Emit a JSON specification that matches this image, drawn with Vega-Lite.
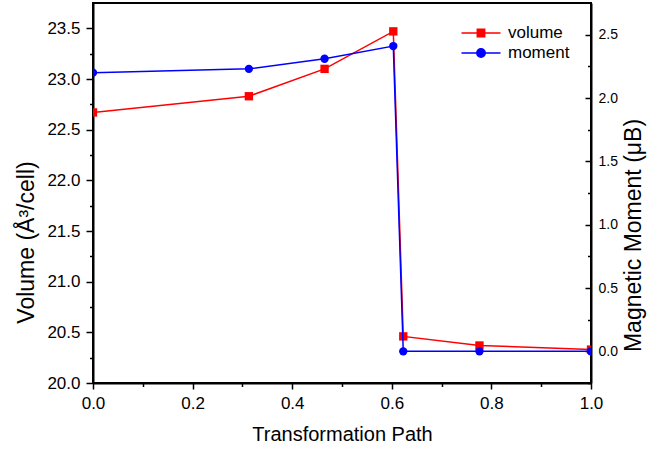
{
  "$schema": "https://vega.github.io/schema/vega-lite/v6.json",
  "width": 498,
  "height": 380,
  "autosize": {"type": "none"},
  "padding": {"left": 93, "top": 3, "right": 79, "bottom": 67},
  "background": "white",
  "config": {
    "view": {"stroke": "black", "strokeWidth": 2},
    "font": "Liberation Sans",
    "axis": {
      "grid": false,
      "domainColor": "black",
      "domainWidth": 2,
      "tickColor": "black",
      "tickWidth": 1.5,
      "labelColor": "black",
      "titleColor": "black",
      "labelFont": "Liberation Sans",
      "titleFont": "Liberation Sans",
      "titleFontWeight": "normal",
      "titleFontSize": 20,
      "labelFontSize": 17
    },
    "legend": {
      "labelFont": "Liberation Sans",
      "labelFontSize": 17,
      "labelColor": "black"
    }
  },
  "data": {
    "values": [
      {"path": 0.0, "series": "volume", "value": 22.67},
      {"path": 0.313, "series": "volume", "value": 22.83},
      {"path": 0.465, "series": "volume", "value": 23.10},
      {"path": 0.603, "series": "volume", "value": 23.47},
      {"path": 0.623, "series": "volume", "value": 20.46},
      {"path": 0.776, "series": "volume", "value": 20.37},
      {"path": 1.0, "series": "volume", "value": 20.33},
      {"path": 0.0, "series": "moment", "value": 2.20},
      {"path": 0.313, "series": "moment", "value": 2.23},
      {"path": 0.465, "series": "moment", "value": 2.31},
      {"path": 0.603, "series": "moment", "value": 2.41},
      {"path": 0.623, "series": "moment", "value": 0.0},
      {"path": 0.776, "series": "moment", "value": 0.0},
      {"path": 1.0, "series": "moment", "value": 0.0}
    ]
  },
  "encoding": {
    "x": {
      "field": "path",
      "type": "quantitative",
      "scale": {"domain": [0, 1], "nice": false, "zero": false},
      "axis": {
        "title": "Transformation Path",
        "values": [0, 0.1, 0.2, 0.3, 0.4, 0.5, 0.6, 0.7, 0.8, 0.9, 1.0],
        "labelExpr": "abs(round(datum.value*5) - datum.value*5) > 0.01 ? '' : format(datum.value, '.1f')",
        "tickSize": {"condition": {"test": "abs(round(datum.value*5) - datum.value*5) > 0.01", "value": 3.5}, "value": 6},
        "labelPadding": 6,
        "labelFlush": false,
        "labelOverlap": false,
        "titleY": 57,
        "titleBaseline": "alphabetic"
      }
    }
  },
  "layer": [
    {
      "transform": [{"filter": "datum.series === 'volume'"}],
      "encoding": {
        "y": {
          "field": "value",
          "type": "quantitative",
          "scale": {"domain": [20, 23.75], "nice": false, "zero": false},
          "axis": {
            "orient": "left",
            "title": "Volume (Å³/cell)",
            "titleFontSize": 23,
            "values": [20, 20.25, 20.5, 20.75, 21, 21.25, 21.5, 21.75, 22, 22.25, 22.5, 22.75, 23, 23.25, 23.5],
            "labelExpr": "abs(round(datum.value*2) - datum.value*2) > 0.01 ? '' : format(datum.value, '.1f')",
            "tickSize": {"condition": {"test": "abs(round(datum.value*2) - datum.value*2) > 0.01", "value": 3.5}, "value": 7},
            "labelPadding": 6,
            "labelFlush": false,
            "labelOverlap": false,
            "titleAngle": -90,
            "titleX": -60,
            "titleY": 239,
            "titleAlign": "center",
            "titleBaseline": "alphabetic"
          }
        }
      },
      "layer": [
        {"mark": {"type": "line", "color": "#ff0000", "strokeWidth": 1.5, "clip": true}},
        {"mark": {"type": "square", "color": "#ff0000", "size": 70, "opacity": 1, "clip": true}}
      ]
    },
    {
      "transform": [{"filter": "datum.series === 'moment'"}],
      "encoding": {
        "y": {
          "field": "value",
          "type": "quantitative",
          "scale": {"domain": [-0.25, 2.75], "nice": false, "zero": false},
          "axis": {
            "orient": "right",
            "title": "Magnetic Moment (μB)",
            "titleFontSize": 23,
            "values": [-0.25, 0, 0.25, 0.5, 0.75, 1, 1.25, 1.5, 1.75, 2, 2.25, 2.5],
            "labelExpr": "abs(round(datum.value*2) - datum.value*2) > 0.01 ? '' : format(datum.value, '.1f')",
            "tickSize": {"condition": {"test": "abs(round(datum.value*2) - datum.value*2) > 0.01", "value": -3.5}, "value": -6},
            "labelPadding": 13,
            "labelFontSize": 14,
            "labelFlush": false,
            "labelOverlap": false,
            "titleAngle": -90,
            "titleX": 49,
            "titleY": 232,
            "titleAlign": "center",
            "titleBaseline": "alphabetic"
          }
        }
      },
      "layer": [
        {"mark": {"type": "line", "color": "#0000ff", "strokeWidth": 1.5, "clip": true}},
        {"mark": {"type": "circle", "color": "#0000ff", "size": 70, "opacity": 1, "clip": true}}
      ]
    },
    {
      "mark": {"type": "point", "filled": false, "opacity": 0, "clip": true},
      "encoding": {
        "y": {"field": "value", "type": "quantitative", "axis": null},
        "color": {
          "field": "series",
          "type": "nominal",
          "scale": {"domain": ["volume", "moment"], "range": ["#ff0000", "#0000ff"]},
          "legend": {
            "title": null,
            "orient": "none",
            "legendX": 377,
            "legendY": 19,
            "padding": 0,
            "symbolSize": 400,
            "symbolStrokeWidth": 1.5,
            "labelOffset": 16,
            "rowPadding": 1,
            "symbolOpacity": 1
          }
        },
        "fill": {
          "field": "series",
          "type": "nominal",
          "scale": {"domain": ["volume", "moment"], "range": ["#ff0000", "#0000ff"]},
          "legend": {
            "title": null,
            "orient": "none",
            "legendX": 377,
            "legendY": 19,
            "padding": 0,
            "symbolSize": 400,
            "symbolStrokeWidth": 1.5,
            "labelOffset": 16,
            "rowPadding": 1,
            "symbolOpacity": 1
          }
        },
        "shape": {
          "field": "series",
          "type": "nominal",
          "scale": {
            "domain": ["volume", "moment"],
            "range": [
              "M-1.95,0H-0.37M0.37,0H1.95M-0.37,-0.37H0.37V0.37H-0.37Z",
              "M-1.95,0H-0.42M0.42,0H1.95M0.42,0A0.42,0.42,0,1,1,-0.42,0A0.42,0.42,0,1,1,0.42,0Z"
            ]
          },
          "legend": {
            "title": null,
            "orient": "none",
            "legendX": 377,
            "legendY": 19,
            "padding": 0,
            "symbolSize": 400,
            "symbolStrokeWidth": 1.5,
            "labelOffset": 16,
            "rowPadding": 1,
            "symbolOpacity": 1
          }
        }
      }
    }
  ],
  "resolve": {"scale": {"y": "independent"}}
}
